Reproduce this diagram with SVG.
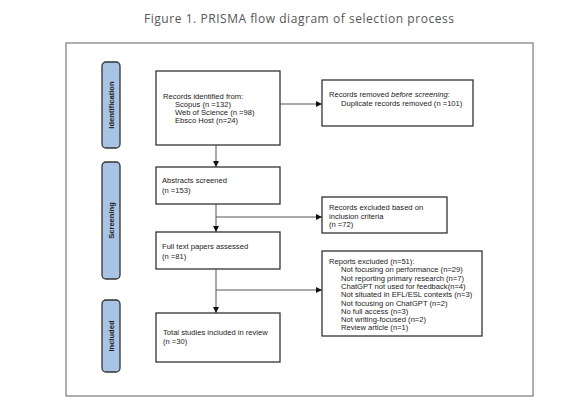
<svg xmlns="http://www.w3.org/2000/svg" width="561" height="413" viewBox="0 0 561 413">
<defs>
<marker id="ah" viewBox="0 0 6 6" refX="6" refY="3" markerWidth="6" markerHeight="6" orient="auto" markerUnits="userSpaceOnUse">
<path d="M0,0 L6,3 L0,6 z" fill="#111"/>
</marker>
</defs>
<style>
.frame{fill:none;stroke:#7a7a7a;stroke-width:1.2}
.box{fill:#fff;stroke:#333;stroke-width:1.3}
.side{fill:#a8c3e3;stroke:#333;stroke-width:1.3}
.t{font-family:"Liberation Sans",Arial,sans-serif;font-size:7.6px;fill:#222}
.s{font-family:"Liberation Sans",Arial,sans-serif;font-size:7.6px;font-weight:bold;fill:#222}
.c{fill:none;stroke:#555;stroke-width:1;marker-end:url(#ah)}
.l{fill:none;stroke:#555;stroke-width:1}
.title{font-family:"Open Sans","DejaVu Sans",sans-serif;font-size:12px;fill:#555}
</style>
<rect width="561" height="413" fill="#fff"/>
<text class="title" x="299" y="23" text-anchor="middle" textLength="310" lengthAdjust="spacing">Figure 1. PRISMA flow diagram of selection process</text>
<rect class="frame" x="66" y="43" width="467" height="353"/>

<g id="side-identification">
<rect class="side" x="102" y="62" width="18" height="86" rx="4"/>
<text class="s" transform="translate(113.5,105) rotate(-90)" text-anchor="middle">Identification</text>
</g>
<g id="side-screening">
<rect class="side" x="102" y="162" width="18" height="117" rx="4"/>
<text class="s" transform="translate(113.5,220.5) rotate(-90)" text-anchor="middle">Screening</text>
</g>
<g id="side-included">
<rect class="side" x="102" y="300" width="18" height="72" rx="4"/>
<text class="s" transform="translate(113.5,336) rotate(-90)" text-anchor="middle">Included</text>
</g>

<g id="connectors">
<line class="c" x1="280" y1="104" x2="322" y2="104"/>
<line class="c" x1="216" y1="145" x2="216" y2="167"/>
<line class="c" x1="216" y1="204" x2="216" y2="232"/>
<line class="c" x1="216" y1="217" x2="322" y2="217"/>
<line class="c" x1="216" y1="269" x2="216" y2="313"/>
<line class="c" x1="216" y1="290" x2="322" y2="290"/>
</g>

<g id="identified">
<rect class="box" x="156" y="71" width="124" height="74"/>
<text class="t" x="163" y="99">Records identified from:</text>
<text class="t" x="175" y="107">Scopus (n =132)</text>
<text class="t" x="175" y="115">Web of Science (n =98)</text>
<text class="t" x="175" y="123">Ebsco Host (n=24)</text>
</g>

<g id="removed">
<rect class="box" x="322" y="80" width="151" height="46"/>
<text class="t" x="329" y="97">Records removed <tspan font-style="italic">before screening</tspan>:</text>
<text class="t" x="341" y="106">Duplicate records removed (n =101)</text>
</g>

<g id="abstracts">
<rect class="box" x="156" y="167" width="124" height="37"/>
<text class="t" x="162" y="183">Abstracts screened</text>
<text class="t" x="162" y="193">(n =153)</text>
</g>

<g id="excluded">
<rect class="box" x="322" y="197" width="125" height="36"/>
<text class="t" x="329" y="210">Records excluded based on</text>
<text class="t" x="329" y="219">inclusion criteria</text>
<text class="t" x="329" y="227">(n =72)</text>
</g>

<g id="fulltext">
<rect class="box" x="156" y="232" width="124" height="37"/>
<text class="t" x="162" y="249">Full text papers assessed</text>
<text class="t" x="162" y="259">(n =81)</text>
</g>

<g id="reports">
<rect class="box" x="322" y="251" width="160" height="85"/>
<text class="t" x="329" y="264">Reports excluded (n=51):</text>
<text class="t" x="341" y="272.3">Not focusing on performance (n=29)</text>
<text class="t" x="341" y="280.6">Not reporting primary research (n=7)</text>
<text class="t" x="341" y="288.9">ChatGPT not used for feedback(n=4)</text>
<text class="t" x="341" y="297.2">Not situated in EFL/ESL contexts (n=3)</text>
<text class="t" x="341" y="305.5">Not focusing on ChatGPT (n=2)</text>
<text class="t" x="341" y="313.8">No full access (n=3)</text>
<text class="t" x="341" y="322.1">Not writing-focused (n=2)</text>
<text class="t" x="341" y="330.4">Review article (n=1)</text>
</g>

<g id="included">
<rect class="box" x="156" y="313" width="124" height="49"/>
<text class="t" x="163" y="335">Total studies included in review</text>
<text class="t" x="163" y="344">(n =30)</text>
</g>
</svg>
